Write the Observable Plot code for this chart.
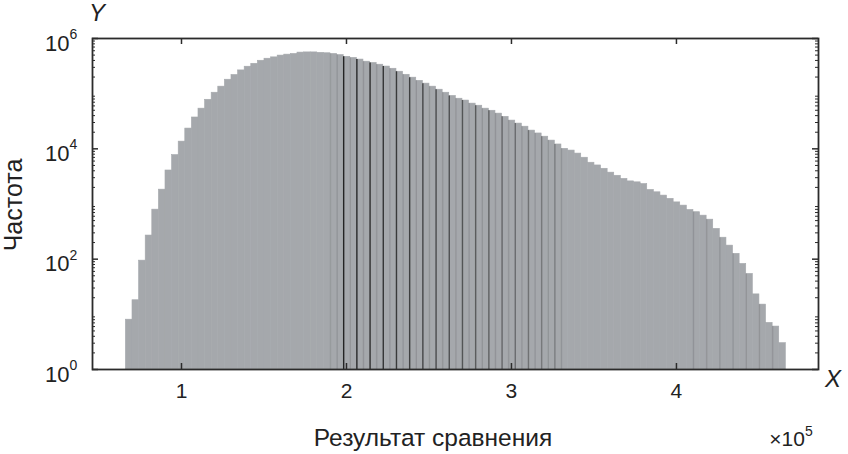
<!DOCTYPE html>
<html><head><meta charset="utf-8">
<script src="https://cdn.jsdelivr.net/npm/d3@7"></script>
<script src="https://cdn.jsdelivr.net/npm/@observablehq/plot@0.6"></script>
<style>body{margin:0;background:#fff} svg{display:block}</style>
</head><body><div id="chart"></div>
<script>
// Histogram: bins in units of 10^5
const binStart = 0.663;
const binWidth = 0.04;
const counts = [
  8, 18, 94, 268, 790, 1820, 4050, 7700, 13500, 23300,
  37000, 53500, 77500, 104000, 134000, 179000, 218000, 264000, 308000, 348000,
  395000, 430000, 455000, 490000, 510000, 525000, 555000, 560000, 560000, 550000,
  540000, 525000, 500000, 465000, 445000, 415000, 380000, 360000, 335000, 310000,
  283000, 250000, 220000, 195000, 171000, 152000, 134000, 118000, 104000, 91000,
  81000, 75000, 66000, 60500, 53500, 49000, 43500, 38000, 32500, 28700,
  25200, 21400, 19000, 16600, 14100, 12000, 10000, 9300, 8200, 6900,
  5600, 5000, 4350, 3700, 3250, 2850, 2570, 2470, 2300, 1800,
  1630, 1420, 1240, 1070, 935, 780, 710, 615, 520, 354,
  245, 176, 125, 82, 54, 23, 15, 7, 6, 3
];
const xTicks = [1, 2, 3, 4];
const xTickLabels = ["1", "2", "3", "4"];
const yTicks = [1, 1e2, 1e4, 1e6];
const yTickBase = "10";
const yTickExponents = ["0", "2", "4", "6"];
const xDomain = [0.4606, 4.861];
const yDomain = [1, 1e6];
const xLabel = "Результат сравнения";
const yLabel = "Частота";
const xMultiplier = ["×10", "5"];

const W = 848, H = 454, mL = 92, mR = 30, mT = 38, mB = 85;
const innerW = W - mL - mR, innerH = H - mT - mB;

const bins = counts.map((c, i) => ({x1: binStart + i * binWidth, x2: binStart + (i + 1) * binWidth, count: c}));

// bin-edge lines (rendering artefact of the original histogram)
const edges = [];
for (let i = 1; i < counts.length; i++) {
  let op = 0, dark = false;
  if (i >= 32 && i <= 66) {
    if (i % 2 === 1) { dark = true; op = Math.max(0.3, 0.95 - (i - 33) * 0.02); }
    else op = 0.3;
  } else if (i >= 86 && i % 2 === 0) op = 0.3;
  else if (i === 31) op = 0.2;
  if (op > 0) edges.push({x: binStart + i * binWidth, top: Math.min(counts[i - 1], counts[i]), op, dark});
}

const minor = [];
for (let d = 0; d < 6; d++) for (let k = 2; k <= 9; k++) minor.push(k * 10 ** d);

const yLabels = yTicks.map((v, i) => ({v, base: yTickBase, exp: yTickExponents[i]}));
const xLabels = xTicks.map((v, i) => ({v, label: xTickLabels[i]}));

const axisColor = "#2b2b2b";
const font = "'Liberation Sans', Arial, sans-serif";
const chart = Plot.plot({
  width: W, height: H,
  marginLeft: mL, marginRight: mR, marginTop: mT, marginBottom: mB,
  style: {fontFamily: font, fontSize: "21px", color: "#222", background: "#fff"},
  x: {domain: xDomain, axis: null},
  y: {type: "log", domain: yDomain, axis: null},
  marks: [
    Plot.rectY(bins, {x1: "x1", x2: "x2", y1: 1, y2: "count", fill: "#a5a8ac", stroke: "#a5a8ac", strokeWidth: 0.6}),
    Plot.ruleX(edges, {x: "x", y1: 1, y2: "top", stroke: d => d.dark ? "#1c1c1c" : "#66686b", strokeOpacity: "op", strokeWidth: 1.4}),
    // inward ticks
    Plot.tickX(xTicks, {x: d => d, insetTop: innerH - 6, stroke: axisColor, strokeWidth: 1.5}),
    Plot.tickX(xTicks, {x: d => d, insetBottom: innerH - 6, stroke: axisColor, strokeWidth: 1.5}),
    Plot.tickY(yTicks, {y: d => d, insetRight: innerW - 6, stroke: axisColor, strokeWidth: 1.5}),
    Plot.tickY(yTicks, {y: d => d, insetLeft: innerW - 6, stroke: axisColor, strokeWidth: 1.5}),
    Plot.tickY(minor, {y: d => d, insetRight: innerW - 3, stroke: axisColor, strokeWidth: 1}),
    Plot.tickY(minor, {y: d => d, insetLeft: innerW - 3, stroke: axisColor, strokeWidth: 1}),
    Plot.frame({stroke: axisColor, strokeWidth: 1.8}),
    // tick labels
    Plot.text(xLabels, {x: "v", frameAnchor: "bottom", dy: 28, text: "label", fontSize: 21, fill: "#222"}),
    Plot.text(yLabels, {y: "v", frameAnchor: "left", dx: -23, dy: 5, text: "base", textAnchor: "end", fontSize: 22, fill: "#222"}),
    Plot.text(yLabels, {y: "v", frameAnchor: "left", dx: -23, dy: -4, text: "exp", textAnchor: "start", fontSize: 14, fill: "#222"})
  ]
});
document.getElementById("chart").appendChild(chart);

const svg = d3.select(chart);
svg.append("text").attr("x", 433).attr("y", 437).attr("text-anchor", "middle").attr("dominant-baseline", "central")
  .attr("font-family", font).attr("font-size", 24.5).attr("fill", "#222").text(xLabel);
const mult = svg.append("text").attr("x", 791).attr("y", 438).attr("text-anchor", "middle").attr("dominant-baseline", "central")
  .attr("font-family", font).attr("font-size", 21).attr("fill", "#222").text(xMultiplier[0]);
mult.append("tspan").attr("dy", "-0.5em").attr("font-size", "14px").text(xMultiplier[1]);
svg.append("text").attr("x", 833).attr("y", 378).attr("text-anchor", "middle").attr("dominant-baseline", "central")
  .attr("font-family", font).attr("font-size", 24).attr("font-style", "italic").attr("fill", "#222").text("X");
svg.append("text").attr("x", 97).attr("y", 12).attr("text-anchor", "middle").attr("dominant-baseline", "central")
  .attr("font-family", font).attr("font-size", 24).attr("font-style", "italic").attr("fill", "#222").text("Y");
svg.append("text").attr("transform", "translate(13,205) rotate(-90)").attr("text-anchor", "middle").attr("dominant-baseline", "central")
  .attr("font-family", font).attr("font-size", 25).attr("fill", "#222").text(yLabel);
</script>
</body></html>
